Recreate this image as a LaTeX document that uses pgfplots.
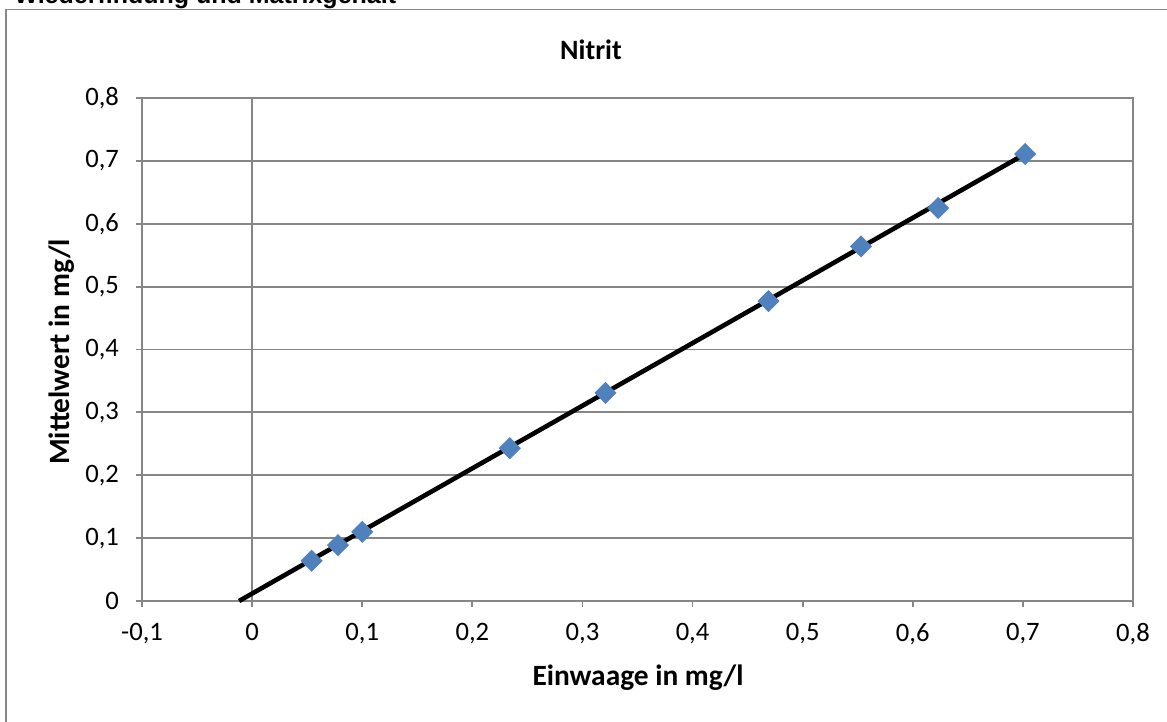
\documentclass[border=0pt]{standalone}
\usepackage{fontspec}
\setmainfont{Carlito}
\newfontfamily\arialfont{Liberation Sans}
\usepackage{pgfplots}
\pgfplotsset{compat=1.18}
\definecolor{gridgray}{HTML}{868686}
\definecolor{markblue}{HTML}{4F81BD}
\begin{document}
\begin{tikzpicture}
\path[use as bounding box, clip] (0,0) rectangle (583.5pt,361pt);
\fill[white] (0,0) rectangle (583.5pt,361pt);
\node[anchor=base west, inner sep=0pt, font=\arialfont\bfseries\fontsize{12.5}{14}\selectfont] at (7pt,359pt) {Wiederfindung und Matrixgehalt};
\draw[gridgray, line width=0.9pt] (2.9pt,-10pt) rectangle (595pt,356.2pt);
\node[font=\bfseries\fontsize{14}{16}\selectfont] at (295.5pt,336pt) {Nitrit};
\node[font=\bfseries\fontsize{14.7}{16}\selectfont] at (319pt,22pt) {Einwaage in mg/l};
\node[font=\bfseries\fontsize{14.7}{16}\selectfont, rotate=90] at (31pt,185pt) {Mittelwert in mg/l};
\begin{axis}[
  at={(71pt,60.5pt)}, anchor=south west,
  scale only axis, width=495.5pt, height=251.5pt,
  xmin=-0.1, xmax=0.8, ymin=0, ymax=0.8,
  xtick={-0.1,0,...,0.8}, ytick={0,0.1,...,0.8},
  axis line style={gridgray, line width=0.9pt},
  ymajorgrids, grid style={gridgray, line width=0.9pt},
  tick style={gridgray, line width=0.9pt},
  tick align=outside, major tick length=3pt,
  xtick pos=bottom, ytick pos=left,
  xticklabel style={font=\fontsize{13.3}{15}\selectfont, yshift=-4.5pt},
  yticklabel style={font=\fontsize{13.3}{15}\selectfont, xshift=-5pt},
  /pgf/number format/assume math mode=true,
  /pgf/number format/use comma,
  /pgf/number format/fixed,
  /pgf/number format/precision=1,
  clip=false,
]
\draw[gridgray, line width=0.9pt] (axis cs:0,0) -- (axis cs:0,0.8);
\addplot[black, line width=2.3pt, no marks] coordinates {(-0.0118,0) (0.702,0.711)};
\addplot[only marks, mark=square*, mark size=3.7pt, mark options={rotate=45, fill=markblue, draw=markblue}] coordinates {
(0.054,0.064)
(0.078,0.089)
(0.100,0.110)
(0.234,0.243)
(0.321,0.331)
(0.469,0.477)
(0.553,0.564)
(0.623,0.625)
(0.702,0.711)
};
\end{axis}
\end{tikzpicture}
\end{document}
